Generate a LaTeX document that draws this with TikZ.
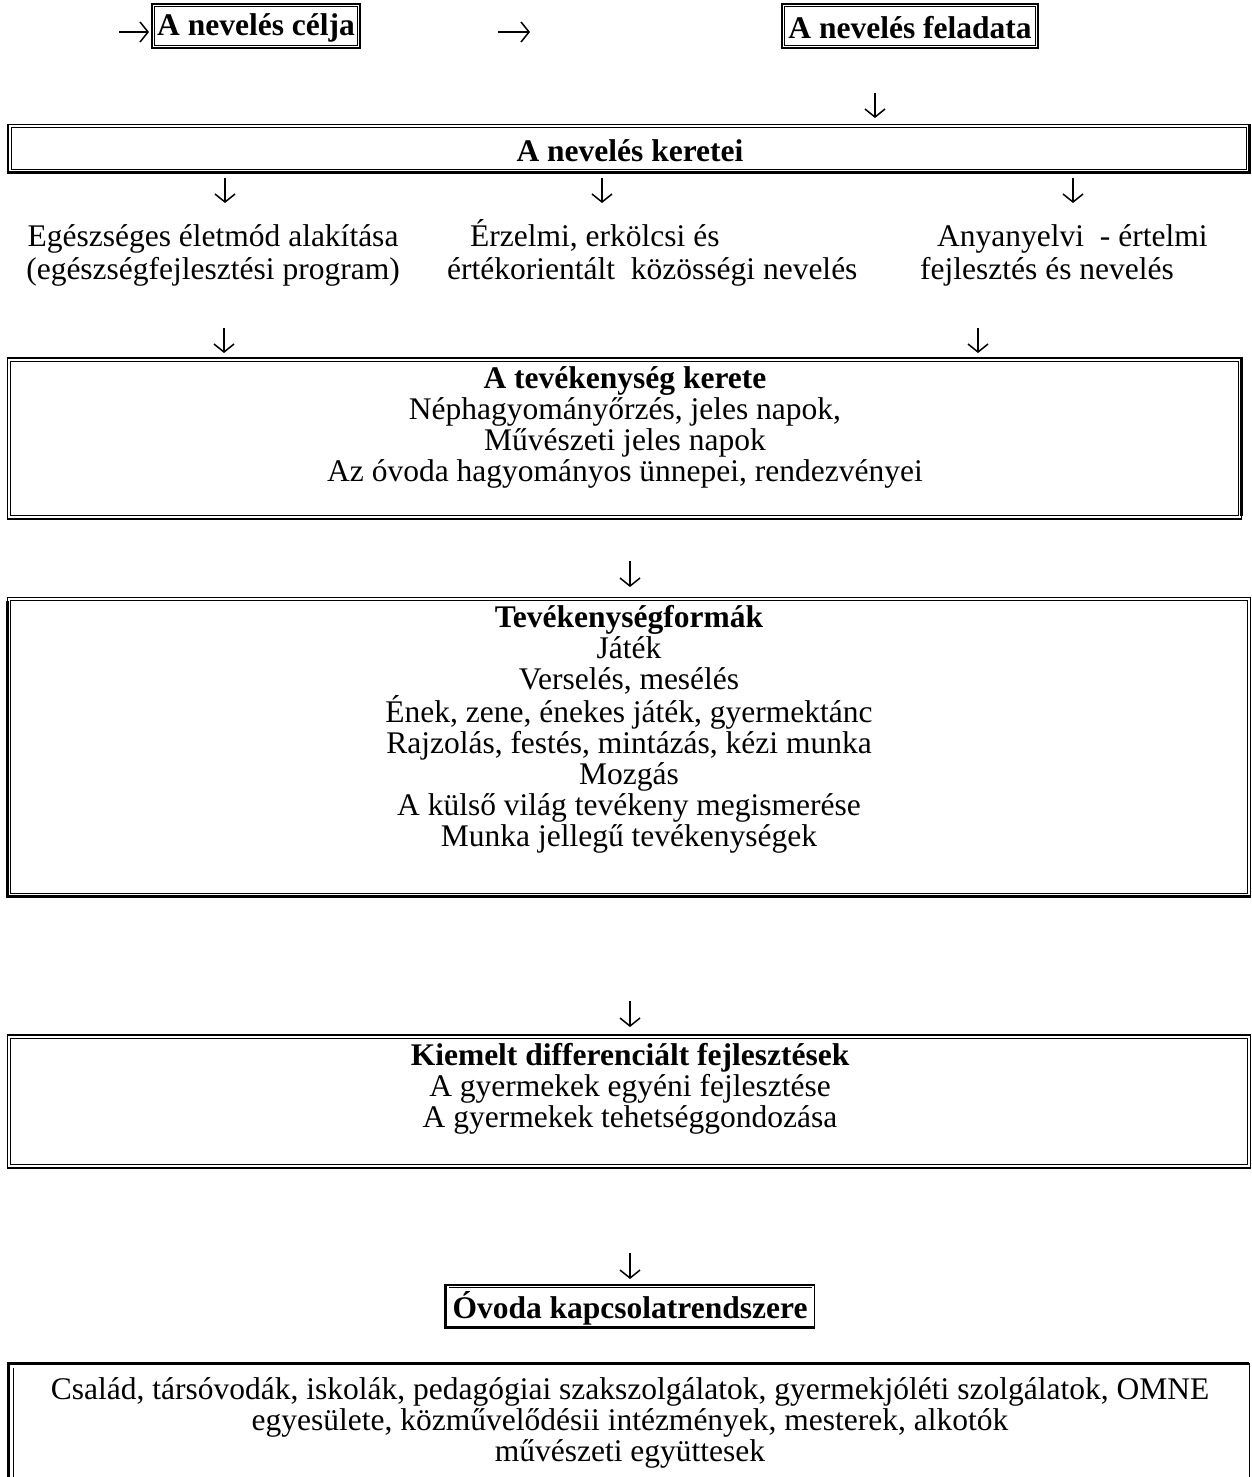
\documentclass[tikz,border=0pt]{standalone}
\usepackage{fontspec}
\setmainfont{Liberation Serif}
\usetikzlibrary{arrows.meta}
\begin{document}
\begin{tikzpicture}[x=1pt,y=-1pt,
  frame/.style={draw, line width=1.7pt, inner sep=0pt, fill=none},
  innerline/.style={line width=0.9pt},
  txt/.style={font=\fontsize{31.5}{31}\selectfont, inner sep=0pt, align=center},
  hd/.style={font=\fontsize{31.5}{31}\selectfont\bfseries, inner sep=0pt},
  arr/.style={line width=1.5pt, -{Straight Barb[length=8pt,width=20pt,line width=1.5pt]}}]
\useasboundingbox[fill=white] (0,0) rectangle (1252,1477);

% top row
\node[frame, minimum width=208, minimum height=44] (celja) at (256,26) {};
\draw[innerline] ([shift={(3.5,3.5)}]celja.north west) rectangle ([shift={(-3.5,-3.5)}]celja.south east);
\node[hd] (celjat) at (256,28) {A nevelés célja};
\node[frame, minimum width=256, minimum height=44] (feladat) at (910,26) {};
\draw[innerline] ([shift={(3.5,3.5)}]feladat.north west) rectangle ([shift={(-3.5,-3.5)}]feladat.south east);
\node[hd] (feladatt) at (910,28) {A nevelés feladata};
\coordinate (a1s) at (119,32); \coordinate (a1e) at (149,32);
\coordinate (a2s) at (498,32); \coordinate (a2e) at (530,32);
\draw[arr] (a1s) -- (a1e);
\draw[arr] (a2s) -- (a2e);
\coordinate (a3s) at (875,93); \coordinate (a3e) at (875,118);
\draw[arr] (a3s) -- (a3e);

% keretei
\node[frame, minimum width=1242, minimum height=48] (keretei) at (629,148.5) {};
\draw[innerline] ([shift={(4,4)}]keretei.north west) rectangle ([shift={(-4,-4)}]keretei.south east);
\draw[line width=3pt] ([shift={(-1,0)}]keretei.north east) -- ([shift={(-1,-1)}]keretei.south east) -- ([shift={(0,-1)}]keretei.south west);
\node[hd] (kereteit) at (630,151) {A nevelés keretei};
\coordinate (b1s) at (225,178); \coordinate (b1e) at (225,203);
\coordinate (b2s) at (602,178); \coordinate (b2e) at (602,203);
\coordinate (b3s) at (1073,178); \coordinate (b3e) at (1073,203);
\draw[arr] (b1s) -- (b1e);
\draw[arr] (b2s) -- (b2e);
\draw[arr] (b3s) -- (b3e);

% three columns
\node[txt, anchor=base] (col1a) at (213,246) {Egészséges életmód alakítása};
\node[txt, anchor=base] (col1b) at (213,279) {(egészségfejlesztési program)};
\node[txt, anchor=base west] (col2a) at (470,246) {Érzelmi, erkölcsi és};
\node[txt, anchor=base west] (col2b) at (447,279) {értékorientált\ \ közösségi nevelés};
\node[txt, anchor=base west] (col3a) at (937,246) {Anyanyelvi\ \ - értelmi};
\node[txt, anchor=base west] (col3b) at (920,279) {fejlesztés és nevelés};

\coordinate (c1s) at (224,328); \coordinate (c1e) at (224,353);
\coordinate (c2s) at (978,328); \coordinate (c2e) at (978,353);
\draw[arr] (c1s) -- (c1e);
\draw[arr] (c2s) -- (c2e);

% tevékenység kerete
\node[frame, minimum width=1234, minimum height=161] (kerete) at (624.5,438.5) {};
\draw[innerline] ([shift={(4,4)}]kerete.north west) rectangle ([shift={(-4,-4)}]kerete.south east);
\draw[line width=3pt] ([shift={(-1,0)}]kerete.north east) -- ([shift={(-1,-4)}]kerete.south east);
\node[txt] (keretet) at (625,427) {\textbf{A tevékenység kerete}\\Néphagyományőrzés, jeles napok,\\Művészeti jeles napok\\Az óvoda hagyományos ünnepei, rendezvényei};

\coordinate (d1s) at (630,561); \coordinate (d1e) at (630,587);
\draw[arr] (d1s) -- (d1e);

% tevékenységformák
\node[frame, minimum width=1243, minimum height=299] (formak) at (629,747) {};
\draw[innerline] ([shift={(4,4)}]formak.north west) rectangle ([shift={(-4,-4)}]formak.south east);
\draw[line width=3pt] ([shift={(1,4)}]formak.north west) -- ([shift={(1,-1)}]formak.south west) -- ([shift={(0,-1)}]formak.south east);
\node[txt] (formakt) at (629,729) {\textbf{Tevékenységformák}\\Játék\\Verselés, mesélés\\Ének, zene, énekes játék, gyermektánc\\Rajzolás, festés, mintázás, kézi munka\\Mozgás\\A külső világ tevékeny megismerése\\Munka jellegű tevékenységek};

\coordinate (e1s) at (630,1001); \coordinate (e1e) at (630,1027);
\draw[arr] (e1s) -- (e1e);

% kiemelt
\node[frame, minimum width=1243, minimum height=133] (kiemelt) at (629,1101.5) {};
\draw[innerline] ([shift={(4,4)}]kiemelt.north west) rectangle ([shift={(-4,-4)}]kiemelt.south east);
\node[txt] (kiemeltt) at (630,1089) {\textbf{Kiemelt differenciált fejlesztések}\\A gyermekek egyéni fejlesztése\\A gyermekek tehetséggondozása};

\coordinate (f1s) at (630,1253); \coordinate (f1e) at (630,1279);
\draw[arr] (f1s) -- (f1e);

% óvoda
\node[frame, minimum width=368, minimum height=42] (ovoda) at (630.5,1306) {};
\draw[innerline] ([shift={(3.5,3.5)}]ovoda.north west) -- ([shift={(-3.5,3.5)}]ovoda.north east);
\draw[line width=3pt] (ovoda.north west) -- (ovoda.south west) -- (ovoda.south east);
\node[hd] (ovodat) at (630,1308) {Óvoda kapcsolatrendszere};

% last open box
\draw[line width=3pt] (8,1480) -- (8,1363) -- (1249,1363);
\draw[line width=1pt] (1249,1363) -- (1249,1480);
\draw[innerline] (13,1480) -- (13,1368);
\node[txt] (kapcs) at (630,1423) {Család, társóvodák, iskolák, pedagógiai szakszolgálatok, gyermekjóléti szolgálatok, OMNE\\egyesülete, közművelődésii intézmények, mesterek, alkotók\\művészeti együttesek};
\end{tikzpicture}
\end{document}
